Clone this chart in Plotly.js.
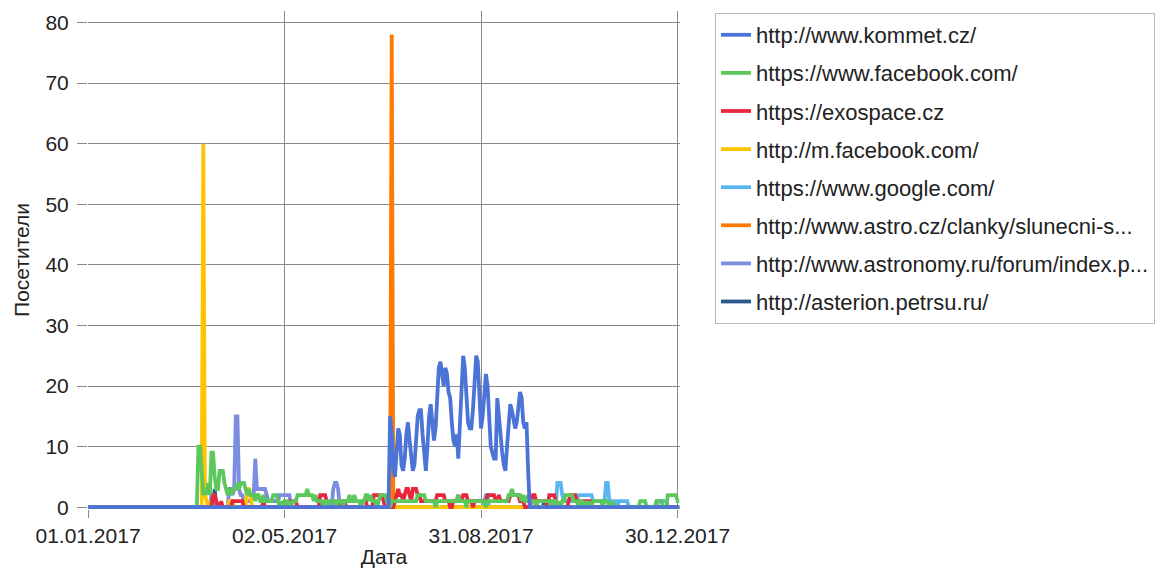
<!DOCTYPE html>
<html>
<head>
<meta charset="utf-8">
<script src="https://cdn.plot.ly/plotly-3.0.1.min.js"></script>
<style>
html,body{margin:0;padding:0;background:#fff;}
#chart{width:1156px;height:568px;}
</style>
</head>
<body>
<div id="chart"></div>
<script>
// ---- data (daily values, 01.01.2017 .. 31.12.2017) ----
const yearStart = '2017-01-01';
const dayCount = 365;

const seriesNames = [
  'http://www.kommet.cz/',
  'https://www.facebook.com/',
  'https://exospace.cz',
  'http://m.facebook.com/',
  'https://www.google.com/',
  'http://www.astro.cz/clanky/slunecni-s...',
  'http://www.astronomy.ru/forum/index.p...',
  'http://asterion.petrsu.ru/'
];

const kommet = [
0,0,0,0,0,0,0,0,0,0, 0,0,0,0,0,0,0,0,0,0, 0,0,0,0,0,0,0,0,0,0,
0,0,0,0,0,0,0,0,0,0, 0,0,0,0,0,0,0,0,0,0, 0,0,0,0,0,0,0,0,0,0,
0,0,0,0,0,0,0,0,0,0, 0,0,0,0,0,0,0,0,0,0, 0,0,0,0,0,0,0,0,0,0,
0,0,0,0,0,0,0,0,0,0, 0,0,0,0,0,0,0,0,0,0, 0,0,0,0,0,0,0,0,0,0,
0,0,0,0,0,0,0,0,0,0, 0,0,0,0,0,0,0,0,0,0, 0,0,0,0,0,0,0,0,0,0,
0,0,0,0,0,0,0,0,0,0, 0,0,0,0,0,0,0,0,0,0, 0,0,0,0,0,0,0,0,0,0,
0,0,0,0,0,0,15,12,6,5,
9,13,12,7,6,8,12,14,11,8,
6,7,11,15,16,16,12,8,6,10,
15,17,14,11,13,19,23,24,22,20,
23,22,19,18,14,11,10,12,8,14,
22,25,23,17,14,13,13,16,20,25,
24,18,13,15,19,22,20,13,10,9,
8,8,18,15,11,9,7,6,10,14,
17,16,14,13,14,17,19,18,14,13,
14,6,0,0,0,0,0,0,0,0,
0,0,0,0,0,0,0,0,0,0, 0,0,0,0,0,0,0,0,0,0, 0,0,0,0,0,0,0,0,0,0,
0,0,0,0,0,0,0,0,0,0, 0,0,0,0,0,0,0,0,0,0, 0,0,0,0,0,0,0,0,0,0,
0,0,0,0,0,0,0,0,0,0, 0,0,0,0,0,0,0,0,0,0,
0,0,0,0,0
];

const facebook = [
0,0,0,0,0,0,0,0,0,0, 0,0,0,0,0,0,0,0,0,0, 0,0,0,0,0,0,0,0,0,0,
0,0,0,0,0,0,0,0,0,0, 0,0,0,0,0,0,0,0,0,0, 0,0,0,0,0,0,0,0,0,0,
0,0,0,0,0,0,0,0,10,10,
6,2,3,2,4,2,9,9,5,3,
3,6,6,6,4,3,2,3,2,3,
3,3,4,3,4,4,4,3,2,3,
2,2,2,1,2,2,1,1,2,1,
1,1,1,1,2,2,2,1,0,1,
0,1,1,0,1,0,1,1,1,2,
2,2,2,2,2,3,2,2,2,1,
2,1,1,1,1,0,1,1,0,1,
1,1,1,0,1,1,1,0,1,1,
1,2,1,1,2,1,1,1,0,1,
1,2,2,1,2,1,1,1,0,1,
2,2,2,2,1,1,0,1,1,1,
1,1,1,1,1,1,1,1,1,1,
1,1,1,2,2,2,2,2,1,1,
1,1,1,1,0,1,1,1,1,1,
1,1,1,1,1,1,1,1,2,1,
1,1,1,0,1,1,1,1,1,1,
1,1,1,1,1,0,1,1,1,1,
1,1,1,1,1,1,1,1,1,2,
2,3,2,2,2,2,2,1,2,1,
1,2,1,1,1,1,0,1,1,1,
1,1,1,1,1,0,1,1,1,0,
1,0,1,1,2,2,2,2,2,1,
1,1,0,1,1,0,1,0,1,0,
0,1,1,1,1,1,1,0,1,1,
1,0,0,1,0,0,0,0,0,0,
0,0,0,0,0,0,0,0,0,0,
1,1,1,1,0,0,0,0,0,0,
1,1,1,1,0,0,0,2,2,2,
2,2,2,1,1
];

const exospace = [
0,0,0,0,0,0,0,0,0,0, 0,0,0,0,0,0,0,0,0,0, 0,0,0,0,0,0,0,0,0,0,
0,0,0,0,0,0,0,0,0,0, 0,0,0,0,0,0,0,0,0,0, 0,0,0,0,0,0,0,0,0,0,
0,0,0,0,0,0,0,0,0,0,
0,0,0,0,0,0,0,2,2,1,
0,0,1,0,0,0,0,0,0,1,
1,1,1,1,1,1,0,0,0,0,
0,0,0,0,0,0,0,0,1,0,
0,0,0,0,0,0,0,0,0,0,
0,0,0,0,0,1,1,1,1,0,
0,0,0,0,0,0,0,0,0,0,
0,0,0,2,2,2,2,1,0,0,
0,0,0,0,0,1,1,1,1,0,
0,0,0,0,0,0,0,0,0,1,
1,1,0,0,0,0,2,2,2,2,
2,2,1,0,0,0,0,0,0,1,
2,3,2,2,1,2,3,3,2,1,
3,3,3,2,2,1,1,1,1,1,
1,1,1,1,1,2,2,2,2,2,
1,1,1,0,0,1,1,1,2,1,
1,2,2,2,1,1,1,0,1,1,
1,1,1,1,1,1,2,2,2,2,
2,1,1,2,1,1,1,1,1,1,
2,2,2,2,2,2,1,1,1,0,
0,0,0,1,2,2,1,1,1,1,
1,1,1,0,2,2,2,2,1,0,
0,0,0,0,0,0,1,2,2,2,
2,1,1,1,1,1,1,1,1,1,
0,0,0,0,0,0,0,0,0,0, 0,0,0,0,0,0,0,0,0,0, 0,0,0,0,0,0,0,0,0,0,
0,0,0,0,0,0,0,0,0,0, 0,0,0,0,0,0,0,0,0,0,
0,0,0,0,0
];

const mFacebook = [
0,0,0,0,0,0,0,0,0,0, 0,0,0,0,0,0,0,0,0,0, 0,0,0,0,0,0,0,0,0,0,
0,0,0,0,0,0,0,0,0,0, 0,0,0,0,0,0,0,0,0,0, 0,0,0,0,0,0,0,0,0,0,
0,0,0,0,0,0,0,0,0,0,
0,60,2,1,0,1,0,0,0,0,
0,0,0,0,0,0,0,1,1,1,
0,0,0,0,0,0,0,0,3,3,
2,0,0,0,0,0,0,0,0,0,
0,0,0,0,0,0,0,0,0,0, 0,0,0,0,0,0,0,0,0,0, 0,0,0,0,0,0,0,0,0,0,
0,0,0,0,0,0,0,0,0,0, 0,0,0,0,0,0,0,0,0,0, 0,0,0,0,0,0,0,0,0,0,
0,0,0,0,0,0,0,0,0,0, 0,0,0,0,0,0,0,0,0,0, 0,0,0,0,0,0,0,0,0,0,
0,0,0,0,0,0,0,0,0,0, 0,0,0,0,0,0,0,0,0,0, 0,0,0,0,0,0,0,0,0,0,
0,0,0,0,0,0,0,0,0,0, 0,0,0,0,0,0,0,0,0,0, 0,0,0,0,0,0,0,0,0,0,
0,0,0,0,0,0,0,0,0,0, 0,0,0,0,0,0,0,0,0,0, 0,0,0,0,0,0,0,0,0,0,
0,0,0,0,0,0,0,0,0,0, 0,0,0,0,0,0,0,0,0,0,
0,0,0,0,0
];

const google = [
0,0,0,0,0,0,0,0,0,0, 0,0,0,0,0,0,0,0,0,0, 0,0,0,0,0,0,0,0,0,0,
0,0,0,0,0,0,0,0,0,0, 0,0,0,0,0,0,0,0,0,0, 0,0,0,0,0,0,0,0,0,0,
0,0,0,0,0,0,0,0,0,0, 0,0,0,0,0,0,0,0,0,0, 0,0,0,0,0,0,0,0,0,0,
0,0,0,0,0,0,0,0,0,0, 0,0,0,0,0,0,0,0,0,0, 0,0,0,0,0,0,0,0,0,0,
0,0,0,0,0,0,0,0,0,0, 0,0,0,0,0,0,0,0,0,0, 0,0,0,0,0,0,0,0,0,0,
0,0,0,0,0,0,0,0,0,0, 0,0,0,0,0,0,0,0,0,0, 0,0,0,0,0,0,0,0,0,0,
0,0,0,0,0,0,0,0,0,0, 0,0,0,0,0,0,0,0,0,0, 0,0,0,0,0,0,0,0,0,0,
0,0,0,0,0,0,0,0,0,0, 0,0,0,0,0,0,0,0,0,0, 0,0,0,0,0,0,0,0,0,0,
0,0,0,0,1,2,2,0,0,0,
0,0,0,0,0,0,0,0,0,0, 0,0,0,0,0,0,0,0,0,0, 0,0,0,0,0,0,0,0,0,0,
0,0,0,1,1,1,0,0,0,4,
4,4,2,1,1,1,1,1,1,1,
1,1,2,2,2,2,2,2,2,2,
2,1,1,1,1,1,1,1,1,4,
4,1,1,1,1,1,0,1,1,1,
1,1,1,0,0,0,0,0,0,0,
0,0,0,0,0,0,0,0,0,0,
0,1,1,1,1,1,1,0,0,0,
0,0,0,0,0
];

const astroCz = [
0,0,0,0,0,0,0,0,0,0, 0,0,0,0,0,0,0,0,0,0, 0,0,0,0,0,0,0,0,0,0,
0,0,0,0,0,0,0,0,0,0, 0,0,0,0,0,0,0,0,0,0, 0,0,0,0,0,0,0,0,0,0,
0,0,0,0,0,0,0,0,0,0, 0,0,0,0,0,0,0,0,0,0, 0,0,0,0,0,0,0,0,0,0,
0,0,0,0,0,0,0,0,0,0, 0,0,0,0,0,0,0,0,0,0, 0,0,0,0,0,0,0,0,0,0,
0,0,0,0,0,0,0,0,0,0, 0,0,0,0,0,0,0,0,0,0, 0,0,0,0,0,0,0,0,0,0,
0,0,0,0,0,0,0,0,0,0, 0,0,0,0,0,0,0,0,0,0, 0,0,0,0,0,0,0,0,0,0,
0,0,0,0,0,0,0,78,0,0,
0,0,0,0,0,0,0,0,0,0, 0,0,0,0,0,0,0,0,0,0, 0,0,0,0,0,0,0,0,0,0,
0,0,0,0,0,0,0,0,0,0, 0,0,0,0,0,0,0,0,0,0, 0,0,0,0,0,0,0,0,0,0,
0,0,0,0,0,0,0,0,0,0, 0,0,0,0,0,0,0,0,0,0, 0,0,0,0,0,0,0,0,0,0,
0,0,0,0,0,0,0,0,0,0, 0,0,0,0,0,0,0,0,0,0, 0,0,0,0,0,0,0,0,0,0,
0,0,0,0,0,0,0,0,0,0, 0,0,0,0,0,0,0,0,0,0, 0,0,0,0,0,0,0,0,0,0,
0,0,0,0,0,0,0,0,0,0, 0,0,0,0,0,0,0,0,0,0, 0,0,0,0,0,0,0,0,0,0,
0,0,0,0,0
];

const astronomyRu = [
0,0,0,0,0,0,0,0,0,0, 0,0,0,0,0,0,0,0,0,0, 0,0,0,0,0,0,0,0,0,0,
0,0,0,0,0,0,0,0,0,0, 0,0,0,0,0,0,0,0,0,0, 0,0,0,0,0,0,0,0,0,0,
0,0,0,0,0,0,0,0,0,0,
0,0,0,0,0,0,2,2,0,0,
0,0,0,0,0,0,0,3,3,2,
3,15,15,3,2,2,1,1,1,1,
1,2,2,8,3,3,3,3,3,3,
2,1,1,1,1,1,1,1,2,2,
2,2,2,2,2,0,0,0,0,0,
0,0,0,0,0,0,0,0,0,0, 0,0,0,0,0,0,0,0,0,0,
0,3,4,4,3,0,0,0,0,0,
0,0,0,0,0,0,0,0,0,0, 0,0,0,0,0,0,0,0,0,0, 0,0,0,0,0,0,0,0,0,0,
0,0,0,0,0,0,0,0,0,0, 0,0,0,0,0,0,0,0,0,0, 0,0,0,0,0,0,0,0,0,0,
0,0,0,0,0,0,0,0,0,0, 0,0,0,0,0,0,0,0,0,0, 0,0,0,0,0,0,0,0,0,0,
0,0,0,0,0,0,0,0,0,0, 0,0,0,0,0,0,0,0,0,0, 0,0,0,0,0,0,0,0,0,0,
0,0,0,0,0,0,0,0,0,0, 0,0,0,0,0,0,0,0,0,0, 0,0,0,0,0,0,0,0,0,0,
0,0,0,0,0,0,0,0,0,0, 0,0,0,0,0,0,0,0,0,0,
0,0,0,0,0
];

const asterion = [
0,0,0,0,0,0,0,0,0,0, 0,0,0,0,0,0,0,0,0,0, 0,0,0,0,0,0,0,0,0,0,
0,0,0,0,0,0,0,0,0,0, 0,0,0,0,0,0,0,0,0,0, 0,0,0,0,0,0,0,0,0,0,
0,0,0,0,0,0,0,0,0,0,
0,0,0,0,0,0,0,0,3,0,
0,0,0,0,0,0,0,0,0,0, 0,0,0,0,0,0,0,0,0,0, 0,0,0,0,0,0,0,0,0,0,
0,0,0,0,0,0,0,0,0,0, 0,0,0,0,0,0,0,0,0,0, 0,0,0,0,0,0,0,0,0,0,
0,0,0,0,0,0,0,0,0,0, 0,0,0,0,0,0,0,0,0,0, 0,0,0,0,0,0,0,0,0,0,
0,0,0,0,0,0,0,0,0,0, 0,0,0,0,0,0,0,0,0,0, 0,0,0,0,0,0,0,0,0,0,
0,0,0,0,0,0,0,0,0,0, 0,0,0,0,0,0,0,0,0,0, 0,0,0,0,0,0,0,0,0,0,
0,0,0,0,0,0,0,0,0,0, 0,0,0,0,0,0,0,0,0,0, 0,0,0,0,0,0,0,0,0,0,
0,0,0,0,0,0,0,0,0,0, 0,0,0,0,0,0,0,0,0,0,
0,1,1,1,1,0,0,0,0,0,
0,0,0,0,0,0,0,0,0,0, 0,0,0,0,0,0,0,0,0,0,
0,0,0,0,0
];

const tickDates = ['2017-01-01', '2017-05-02', '2017-08-31', '2017-12-30'];
const yTicks = [0, 10, 20, 30, 40, 50, 60, 70, 80];

// ---- build ----
const seriesValues = [kommet, facebook, exospace, mFacebook, google, astroCz, astronomyRu, asterion];
const seriesColors = ['#4b74d6', '#5cc85c', '#e8273f', '#ffc400', '#5ab6f0', '#ff7a00', '#7b8de0', '#2e5a8c'];

const dates = [];
const t0 = Date.parse(yearStart + 'T00:00:00Z');
for (let i = 0; i < dayCount; i++) {
  dates.push(new Date(t0 + i * 86400000).toISOString().slice(0, 10));
}

const FONT = 'Liberation Sans, Arial, sans-serif';

const traces = seriesNames.map((name, i) => ({
  type: 'scatter',
  mode: 'lines',
  name: name,
  x: dates,
  y: seriesValues[i],
  line: { color: seriesColors[i], width: 3.8 },
  legendgroup: 'g' + i,
  zorder: seriesNames.length - i,
  hoverinfo: 'x+y+name'
}));

const layout = {
  width: 1156,
  height: 568,
  margin: { l: 88, r: 476, t: 11, b: 59, pad: 0, autoexpand: false },
  paper_bgcolor: '#ffffff',
  plot_bgcolor: '#ffffff',
  font: { family: FONT, size: 21, color: '#222222' },
  showlegend: true,
  legend: {
    x: 1.0591, y: 0.996, xanchor: 'left', yanchor: 'top',
    bordercolor: '#b8b8b8', borderwidth: 1,
    bgcolor: '#ffffff',
    traceorder: 'grouped', tracegroupgap: 6.5,
    entrywidth: 470,
    font: { family: FONT, size: 22, color: '#222222' }
  },
  xaxis: {
    type: 'date',
    range: ['2017-01-01', '2017-12-31 12:00'],
    tickvals: tickDates,
    tickformat: '%d.%m.%Y',
    showgrid: true, gridcolor: '#8a8a8a', gridwidth: 1,
    showline: true, linecolor: '#8a8a8a', linewidth: 1, mirror: true,
    ticks: 'outside', ticklen: 8, tickcolor: '#8a8a8a',
    zeroline: false,
    automargin: false,
    title: { text: 'Дата', font: { family: FONT, size: 21, color: '#222222' }, standoff: 4 },
    tickfont: { family: FONT, size: 21, color: '#222222' }
  },
  yaxis: {
    range: [-0.3, 81.9],
    tickvals: yTicks,
    showgrid: true, gridcolor: '#8a8a8a', gridwidth: 1,
    showline: true, linecolor: '#8a8a8a', linewidth: 1, mirror: true,
    ticks: 'outside', ticklen: 10, tickcolor: '#8a8a8a',
    ticklabelstandoff: 4,
    zeroline: false,
    automargin: false,
    title: { text: 'Посетители', font: { family: FONT, size: 21, color: '#222222' }, standoff: 10 },
    tickfont: { family: FONT, size: 21, color: '#222222' }
  }
};

Plotly.newPlot('chart', traces, layout, { displayModeBar: false, staticPlot: true });
</script>
</body>
</html>
